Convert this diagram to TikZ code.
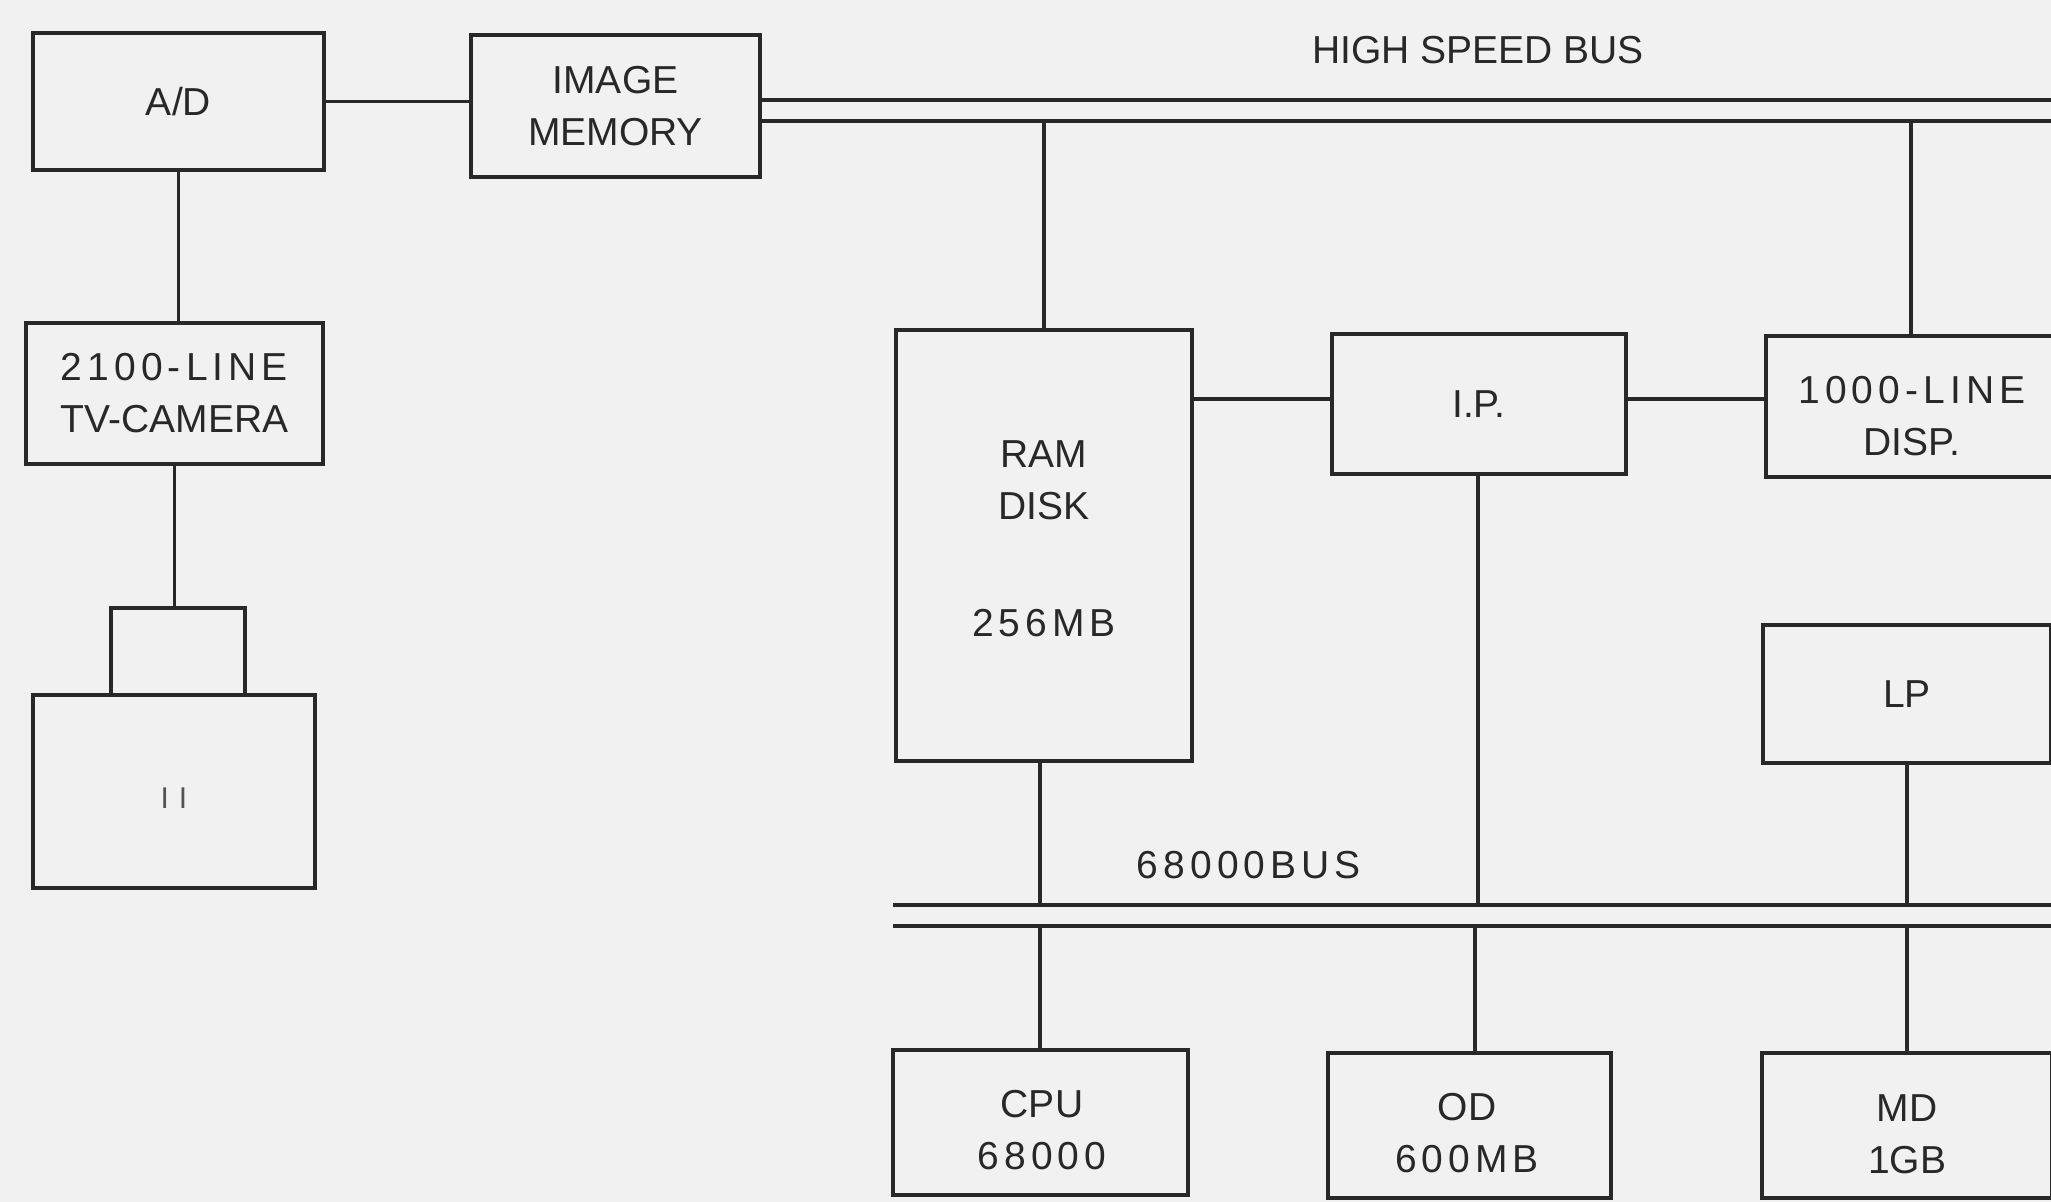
\documentclass[tikz,border=0pt]{standalone}
\usepackage{fontspec}
\setmainfont{Liberation Sans}
\newfontfamily\spacedfont[LetterSpace=13]{Liberation Sans}
\definecolor{bg}{RGB}{241,241,242}
\definecolor{ink}{RGB}{40,40,40}
\begin{document}
\begin{tikzpicture}[x=1pt,y=-1pt,
 box/.style={draw=ink, line width=3.3pt, rectangle, inner sep=0pt, text=ink, align=center, font=\fontsize{39}{52}\selectfont},
 wire/.style={draw=ink, line width=3.3pt},
 lbl/.style={text=ink, inner sep=0pt, align=center, font=\fontsize{39}{52}\selectfont}
]
\useasboundingbox (0,0) rectangle (2051,1202);
\fill[bg] (0,0) rectangle (2051,1202);
\clip (0,0) rectangle (2051,1202);

% left chain
\node[box, minimum width=291pt, minimum height=137pt] (ad) at (178.5,101.5) {A/D};
\node[box, minimum width=289pt, minimum height=142pt] (im) at (615.5,106) {IMAGE\\MEMORY};
\node[box, minimum width=297pt, minimum height=141pt] (tv) at (174.5,393.5) {{\spacedfont 2100-LINE}\\TV-CAMERA};
\node[box, minimum width=134pt, minimum height=87pt] (lens) at (178,651.5) {};
\node[box, minimum width=282pt, minimum height=193pt] (ii) at (174,791.5) {};
\node[lbl, font=\fontsize{30}{36}\selectfont, text=ink!80] (iitext) at (174,798) {I\,\,I};

% right part
\node[box, minimum width=296pt, minimum height=431pt] (ram) at (1044,545.5) {};
\node[lbl] (ramtext) at (1044,480) {RAM\\DISK};
\node[lbl] (ramsize) at (1044,623) {\spacedfont 256MB};
\node[box, minimum width=294pt, minimum height=140pt] (ip) at (1479,404) {I.P.};
\node[box, minimum width=292pt, minimum height=141pt] (disp) at (1912,406.5) {};
\node[lbl] (disptext) at (1912,416) {{\spacedfont 1000-LINE}\\DISP.};
\node[box, minimum width=288pt, minimum height=138pt] (lp) at (1907,694) {LP};
\node[box, minimum width=295pt, minimum height=145pt] (cpu) at (1040.5,1122.5) {};
\node[lbl] (cputext) at (1042,1130) {CPU\\{\spacedfont 68000}};
\node[box, minimum width=283pt, minimum height=145pt] (od) at (1469.5,1125.5) {};
\node[lbl] (odtext) at (1467,1133) {OD\\{\spacedfont 600MB}};
\node[box, minimum width=290pt, minimum height=145pt] (md) at (1907,1125.5) {};
\node[lbl] (mdtext) at (1907,1134) {MD\\1GB};

% bus labels
\node[lbl, font=\fontsize{39}{46}\selectfont] (hsbus) at (1478,50) {HIGH SPEED BUS};
\node[lbl] (bus68) at (1249,865) {\spacedfont 68000BUS};

% high speed bus
\coordinate (hsA1) at (760,100);
\coordinate (hsB1) at (2060,100);
\coordinate (hsA2) at (760,121);
\coordinate (hsB2) at (2060,121);
\draw[wire] (hsA1) -- (hsB1);
\draw[wire] (hsA2) -- (hsB2);

% 68000 bus
\coordinate (mbA1) at (893,905);
\coordinate (mbB1) at (2060,905);
\coordinate (mbA2) at (893,926);
\coordinate (mbB2) at (2060,926);
\draw[wire] (mbA1) -- (mbB1);
\draw[wire] (mbA2) -- (mbB2);

% connectors
\draw[wire] (ad.east) -- (ad.east -| im.west);
\draw[wire] (ad.south) -- (ad.south |- tv.north);
\draw[wire] (tv.south) -- (tv.south |- lens.north);
\draw[wire] (ram.north) -- (ram.north |- hsA2);
\draw[wire] (disp.north -| 1911,0) -- (1911,121);
\draw[wire] (ram.east |- 0,399) -- (ip.west |- 0,399);
\draw[wire] (ip.east |- 0,399) -- (disp.west |- 0,399);
\draw[wire] (ram.south -| 1040,0) -- (1040,905);
\draw[wire] (cpu.north -| 1040,0) -- (1040,926);
\draw[wire] (ip.south -| 1478,0) -- (1478,905);
\draw[wire] (od.north -| 1475,0) -- (1475,926);
\draw[wire] (lp.south) -- (lp.south |- mbA1);
\draw[wire] (md.north) -- (md.north |- mbA2);
\end{tikzpicture}
\end{document}
